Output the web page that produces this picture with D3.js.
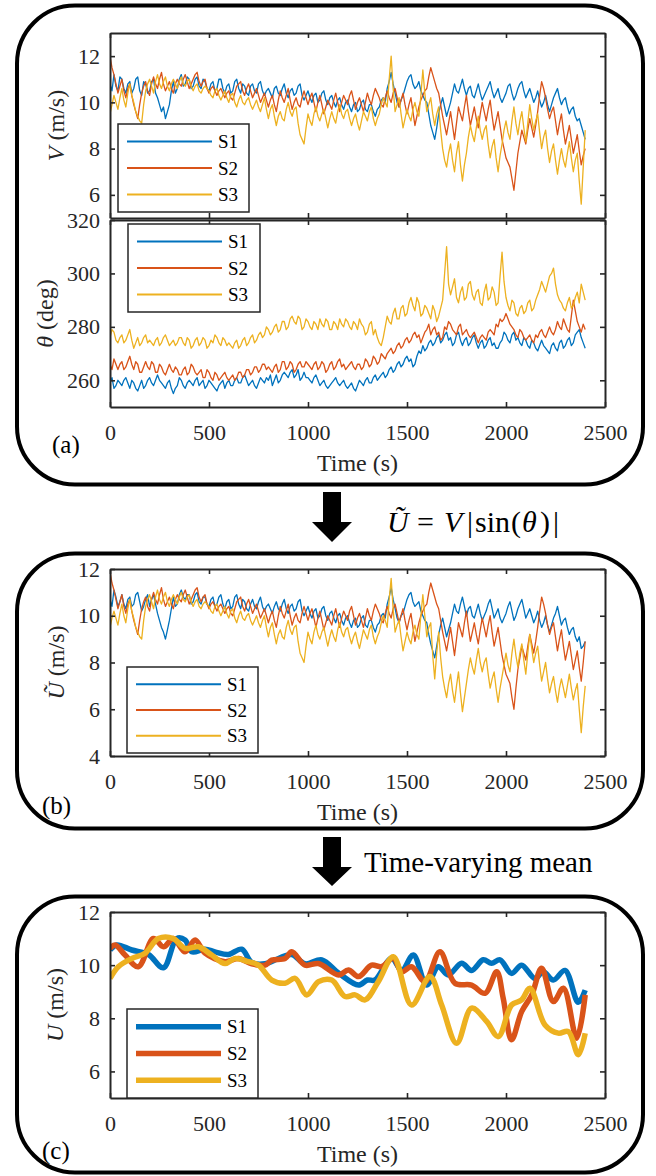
<!DOCTYPE html>
<html>
<head>
<meta charset="utf-8">
<script src="https://d3js.org/d3.v7.min.js"></script>
<style>
  body { margin: 0; background: #fff; }
  svg { display: block; font-family: "Liberation Serif", Tinos, "Times New Roman", Times, "DejaVu Serif", serif; }
</style>
</head>
<body>
<svg id="fig" width="656" height="1176"></svg>
<script>
// ---- data ----
var seriesNames = ["S1", "S2", "S3"];
var seriesColors = ["#0072BD", "#D95319", "#EDB120"];
var timeTicks = [0, 500, 1000, 1500, 2000, 2500];
var speedTicks = [6, 8, 10, 12];
var dirTicks = [260, 280, 300, 320];
var projTicks = [4, 6, 8, 10, 12];
var meanTicks = [6, 8, 10, 12];
var sampleTimes = d3.range(0, 2401, 10);   // one reading every 10 s

// V (m/s)
var speedS1 = [10.8,10.5,11.2,10.7,10.5,11.1,11.0,10.6,10.4,10.8,10.9,10.4,10.6,11.0,11.1,10.5,10.3,10.9,10.8,10.4,
  10.5,10.9,11.0,10.4,10.2,9.9,9.6,9.8,9.3,9.6,9.9,10.5,10.9,10.4,10.6,11.0,11.2,10.7,10.8,11.1,
  11.0,10.6,10.7,11.0,11.1,10.7,10.6,11.0,10.9,10.6,10.5,10.8,10.9,10.5,10.6,11.0,11.0,10.6,10.4,10.7,
  10.8,10.4,10.5,10.9,11.0,10.6,10.4,10.8,10.7,10.4,10.3,10.7,10.8,10.5,10.4,10.8,10.9,10.5,10.3,10.5,
  10.6,10.4,10.2,10.6,10.7,10.4,10.3,10.6,10.8,10.4,10.2,10.5,10.6,10.3,10.4,10.7,10.8,10.3,10.1,10.3,
  10.5,10.2,10.0,10.3,10.4,10.0,10.1,10.4,10.5,10.1,9.9,10.2,10.3,10.0,9.8,10.1,10.2,9.9,9.7,10.0,
  10.1,9.8,9.6,9.9,10.0,9.6,9.7,10.0,10.1,9.7,9.6,9.9,9.9,9.6,9.4,9.7,9.8,10.1,10.2,10.0,
  10.6,10.9,11.3,10.8,10.4,10.0,9.8,10.1,10.3,10.6,10.9,11.1,11.2,10.8,10.6,10.7,10.9,10.5,10.3,10.1,
  10.0,9.5,9.0,8.7,8.4,8.9,9.5,9.9,10.2,9.8,9.4,9.7,10.0,10.4,10.8,10.5,10.4,10.7,11.0,10.6,
  10.3,10.6,10.7,10.3,10.2,10.5,10.8,10.4,10.1,10.3,10.5,10.7,10.9,10.5,10.2,10.4,10.6,10.2,10.0,10.2,
  10.4,10.7,10.8,10.4,10.1,10.3,10.6,10.8,10.9,10.5,10.2,10.4,10.6,10.3,10.0,10.2,10.5,10.1,9.8,10.0,
  10.3,9.9,9.6,9.9,10.2,10.4,10.6,10.2,9.9,10.1,10.2,9.8,9.5,9.7,9.8,9.4,9.2,9.3,9.0,8.7,
  8.4];
var speedS2 = [12.0,11.5,11.2,10.8,10.4,10.7,11.0,10.5,10.2,10.6,10.8,10.3,9.9,9.6,9.3,9.9,10.4,10.7,10.9,10.5,
  10.3,10.8,11.1,10.8,10.6,11.0,11.3,10.8,10.5,10.7,10.9,10.6,10.4,10.8,11.0,10.8,10.7,11.0,11.2,10.9,
  10.6,10.8,11.0,11.2,11.3,10.9,10.7,10.9,11.0,10.6,10.4,10.6,10.7,10.5,10.3,10.5,10.6,10.4,10.2,10.4,
  10.5,10.2,10.1,10.4,10.7,10.8,10.9,10.5,10.3,10.6,10.8,10.5,10.2,10.4,10.6,10.3,10.0,10.2,10.4,10.1,
  9.8,10.1,10.3,9.9,9.6,10.1,10.5,10.2,10.0,10.3,10.6,10.1,9.7,10.0,10.2,9.9,9.8,10.2,10.5,10.2,
  9.9,10.2,10.4,10.0,9.6,10.0,10.3,9.9,9.5,9.8,10.1,9.9,9.7,10.1,10.4,10.0,9.6,10.0,10.3,10.1,
  9.9,10.3,10.5,10.1,9.7,10.0,10.2,9.9,9.6,10.0,10.4,10.1,9.9,10.3,10.6,10.4,10.2,9.9,9.8,10.2,
  10.5,10.2,10.0,10.4,10.6,10.2,9.8,10.1,10.4,9.9,9.5,9.9,10.2,9.6,9.0,9.4,9.8,10.1,10.3,10.5,
  10.6,11.1,11.5,11.2,10.9,10.6,10.4,9.9,9.4,9.0,8.6,9.1,9.6,9.0,8.4,9.1,9.8,9.5,9.2,9.8,
  10.3,9.6,9.0,9.4,9.8,9.3,8.9,9.5,10.0,9.6,9.2,9.7,10.1,9.4,8.8,9.2,9.6,9.0,8.4,8.0,
  7.6,7.4,7.2,6.7,6.2,7.0,7.8,8.3,8.8,8.5,8.2,8.8,9.3,8.9,8.5,9.0,9.6,10.3,10.9,10.6,
  10.2,9.7,9.3,9.6,9.8,9.2,8.6,9.1,9.5,8.8,8.2,8.6,9.0,8.4,7.8,8.2,8.6,7.9,7.3,7.7,
  8.0];
var speedS3 = [9.5,9.9,10.3,10.0,9.7,10.2,10.6,10.1,9.8,10.4,10.8,10.3,10.0,9.6,9.4,9.2,9.1,9.9,10.5,10.8,
  11.0,10.7,10.4,10.9,11.2,10.8,10.6,10.9,11.1,10.7,10.5,10.8,11.0,10.8,10.6,10.9,11.1,10.8,10.7,10.9,
  11.0,10.7,10.5,10.7,10.8,10.5,10.4,10.6,10.7,10.6,10.5,10.3,10.2,10.5,10.6,10.3,10.1,10.3,10.5,10.2,
  10.0,10.3,10.4,10.0,9.8,10.1,10.3,10.0,9.9,10.1,10.2,9.9,9.7,9.9,10.1,9.8,9.6,9.9,10.2,9.7,
  9.3,9.7,9.9,9.4,9.0,9.4,9.6,9.3,9.2,9.7,10.0,9.6,9.4,9.7,9.8,9.1,8.6,8.4,8.2,8.9,
  9.5,9.2,9.0,9.5,9.8,9.4,9.2,9.5,9.7,9.3,8.9,9.3,9.6,9.3,9.1,9.6,9.9,9.5,9.3,9.6,
  9.7,9.3,9.0,9.3,9.5,9.1,8.8,9.2,9.6,9.4,9.2,9.6,9.8,9.3,9.0,9.3,9.5,9.9,10.2,10.0,
  9.8,11.0,12.0,10.6,9.6,9.9,10.2,9.5,8.9,9.3,9.7,9.4,9.2,9.7,10.0,9.6,9.4,10.3,11.4,10.4,
  9.6,9.9,10.2,9.5,9.0,9.5,9.8,8.8,8.0,7.5,7.2,7.8,8.2,7.5,7.0,7.8,8.3,7.3,6.6,7.3,
  7.8,8.5,9.0,8.6,8.3,8.9,9.4,8.8,8.4,8.8,9.0,8.2,7.6,8.1,8.4,7.6,7.0,7.7,8.2,8.8,
  9.2,8.7,8.4,9.2,9.8,9.1,8.6,9.2,9.6,8.9,8.3,9.1,9.9,9.3,8.8,9.2,9.5,8.7,8.0,8.5,
  8.8,8.0,7.4,7.9,8.2,7.5,6.9,7.5,8.0,7.5,7.2,7.8,8.3,7.6,7.0,7.5,7.8,6.6,5.6,7.2,
  8.8];

// theta (deg)
var dirS1 = [259,261,257,258,260,259,258,260,261,259,257,260,259,257,256,258,260,257,258,260,
  261,259,258,260,262,260,259,258,257,259,260,257,255,257,258,261,260,258,257,259,
  260,259,258,260,261,258,259,260,257,258,260,259,258,257,256,258,259,260,257,259,
  260,258,258,260,261,259,259,261,262,260,258,259,260,258,257,259,261,260,259,261,
  260,262,258,260,262,259,260,262,263,262,261,263,264,261,262,264,260,261,263,261,
  261,260,259,261,262,260,258,259,260,258,257,258,259,260,261,259,258,259,260,258,
  257,258,259,257,256,258,260,259,258,260,261,259,259,261,262,260,261,262,263,261,
  262,264,265,263,264,266,267,265,266,268,269,267,268,265,266,269,271,270,273,271,
  272,274,275,273,274,276,277,274,275,277,278,275,276,273,274,277,278,275,273,275,
  276,273,274,276,277,274,272,274,275,272,273,275,276,273,274,272,272,274,275,278,
  277,275,274,277,278,275,276,274,273,276,275,273,272,275,274,272,271,273,275,273,
  272,271,270,273,274,272,271,274,275,272,273,275,276,273,274,277,278,279,276,274,
  272];
var dirS2 = [266,264,268,266,264,266,267,264,265,267,269,266,264,267,266,263,263,265,267,265,
  264,267,266,263,263,266,265,263,262,264,266,264,263,265,264,262,262,264,265,262,
  263,266,265,263,262,263,264,261,261,264,263,261,260,263,262,260,261,262,263,261,
  260,261,262,260,261,263,263,261,262,264,264,262,263,265,265,263,264,266,266,264,
  265,264,263,265,266,263,264,267,267,264,265,267,266,263,264,266,267,265,265,267,
  266,265,264,266,267,264,265,267,266,263,264,266,267,264,265,267,268,265,266,264,
  265,266,267,265,264,266,266,264,265,268,267,265,266,269,268,266,267,270,269,268,
  270,271,272,270,271,273,274,272,273,275,276,274,275,277,278,276,277,274,276,278,
  279,281,277,279,280,277,278,275,276,280,279,282,281,279,278,277,280,281,277,278,
  279,277,276,277,278,276,274,276,277,276,275,278,279,278,277,281,280,283,282,283,
  285,283,281,280,279,277,276,279,278,276,275,276,277,275,274,277,276,278,279,277,
  276,278,280,278,277,279,282,280,279,283,281,279,278,284,290,286,282,280,278,281,
  279];
var dirS3 = [276,279,278,275,274,276,277,274,275,277,279,275,272,274,276,273,274,276,277,274,
  275,274,273,275,276,273,274,276,277,275,273,274,275,273,274,276,276,274,273,276,
  275,272,273,275,276,273,274,276,275,272,273,275,274,277,276,274,273,276,275,273,
  274,273,272,274,275,272,273,275,276,273,274,276,277,274,275,277,278,276,277,280,
  279,277,278,280,281,278,279,282,282,279,280,283,284,282,281,284,283,279,280,283,
  282,280,279,282,281,279,283,281,280,283,282,279,279,282,281,279,283,281,280,283,
  282,280,279,282,281,279,283,281,280,277,278,281,282,277,279,276,274,273,276,280,
  284,282,281,285,287,283,283,287,288,284,285,289,291,288,286,291,289,284,285,288,
  287,285,283,288,286,282,284,287,290,300,310,296,292,295,298,291,289,293,295,290,
  291,296,297,292,290,293,294,289,288,293,296,290,291,295,293,288,289,299,308,297,
  291,288,286,290,289,285,284,287,288,285,286,289,290,286,287,290,292,294,297,295,
  293,296,299,300,302,296,292,290,289,287,286,289,291,287,288,291,293,289,296,293,
  290];

// U tilde (m/s)
var projS1 = [10.7,10.4,11.1,10.8,10.4,10.6,10.9,10.5,10.3,10.7,10.8,10.4,10.5,10.9,11.0,10.6,10.2,10.4,10.7,10.9,
  10.4,10.7,10.9,10.5,10.1,9.8,9.5,9.3,9.0,9.4,9.8,10.3,10.8,10.4,10.5,10.9,11.1,10.8,10.7,10.9,
  10.9,10.5,10.6,10.9,11.0,10.6,10.5,10.8,10.8,10.5,10.4,10.7,10.8,10.4,10.5,10.8,10.9,10.5,10.3,10.6,
  10.7,10.3,10.4,10.8,10.9,10.5,10.3,10.7,10.6,10.3,10.2,10.5,10.7,10.4,10.3,10.6,10.8,10.4,10.2,10.4,
  10.5,10.3,10.1,10.4,10.6,10.3,10.2,10.5,10.7,10.3,10.1,10.4,10.5,10.2,10.3,10.6,10.7,10.2,10.0,10.2,
  10.4,10.1,9.9,10.2,10.3,9.9,10.0,10.3,10.4,10.0,9.8,10.1,10.2,9.9,9.7,10.0,10.1,9.8,9.6,9.9,
  10.0,9.7,9.5,9.8,9.9,9.5,9.6,9.9,10.0,9.6,9.5,9.8,9.8,9.5,9.3,9.6,9.7,10.0,10.1,9.9,
  10.5,10.8,11.2,10.7,10.3,9.9,9.7,10.0,10.1,10.4,10.7,10.9,11.0,10.6,10.4,10.5,10.6,10.2,10.0,9.8,
  9.7,9.2,8.8,8.5,8.2,8.7,9.2,9.6,9.9,9.5,9.1,9.4,9.7,10.1,10.5,10.2,10.1,10.5,10.8,10.4,
  10.0,10.3,10.4,10.0,9.9,10.2,10.5,10.1,9.8,10.0,10.2,10.5,10.7,10.3,9.9,10.1,10.3,9.9,9.7,9.9,
  10.1,10.4,10.6,10.2,9.8,10.0,10.3,10.5,10.7,10.3,9.9,10.1,10.3,10.0,9.7,9.9,10.2,9.8,9.5,9.7,
  10.0,9.6,9.3,9.6,9.9,10.1,10.4,10.0,9.6,9.8,9.9,9.5,9.2,9.4,9.5,9.1,8.9,9.1,8.6,8.7,
  8.9];
var projS2 = [11.9,11.4,11.1,10.7,10.3,10.6,10.9,10.4,10.1,10.5,10.7,10.2,9.8,9.5,9.2,9.8,10.3,10.6,10.8,10.4,
  10.2,10.7,11.0,10.7,10.5,10.9,11.2,10.7,10.4,10.6,10.8,10.5,10.3,10.7,10.9,10.7,10.6,10.9,11.1,10.8,
  10.5,10.7,10.9,11.1,11.2,10.8,10.6,10.8,10.9,10.5,10.3,10.5,10.6,10.4,10.2,10.4,10.5,10.3,10.1,10.3,
  10.4,10.1,10.0,10.3,10.6,10.7,10.8,10.4,10.2,10.5,10.7,10.4,10.1,10.3,10.5,10.2,9.9,10.1,10.3,10.0,
  9.7,10.0,10.2,9.8,9.5,10.0,10.4,10.1,9.9,10.2,10.5,10.0,9.6,9.9,10.1,9.8,9.7,10.1,10.4,10.1,
  9.8,10.1,10.3,9.9,9.5,9.9,10.2,9.8,9.4,9.7,10.0,9.8,9.6,10.0,10.3,9.9,9.5,9.9,10.2,10.0,
  9.8,10.2,10.4,10.0,9.6,9.9,10.1,9.8,9.5,9.9,10.3,10.0,9.8,10.2,10.5,10.3,10.1,9.8,9.7,10.1,
  10.4,10.1,9.9,10.3,10.5,10.1,9.7,10.0,10.3,9.8,9.4,9.8,10.1,9.5,8.9,9.3,9.7,10.0,10.2,10.4,
  10.5,11.0,11.4,11.1,10.8,10.5,10.3,9.8,9.3,8.9,8.5,9.0,9.5,8.9,8.3,9.0,9.7,9.4,9.1,9.7,
  10.2,9.5,8.9,9.3,9.7,9.2,8.8,9.4,9.9,9.5,9.1,9.6,10.0,9.3,8.7,9.1,9.5,8.9,8.3,7.9,
  7.5,7.3,7.1,6.5,6.0,6.9,7.7,8.2,8.7,8.4,8.1,8.7,9.2,8.8,8.4,8.9,9.5,10.2,10.8,10.5,
  10.1,9.6,9.2,9.5,9.7,9.1,8.5,9.0,9.4,8.7,8.1,8.5,8.9,8.3,7.7,8.1,8.5,7.8,7.2,8.0,
  8.9];
var projS3 = [9.5,9.9,10.2,9.9,9.6,10.1,10.5,10.0,9.7,10.3,10.7,10.2,9.9,9.5,9.3,9.1,9.0,9.8,10.4,10.7,
  10.9,10.6,10.3,10.8,11.1,10.7,10.5,10.8,11.0,10.6,10.4,10.7,10.9,10.7,10.5,10.8,11.0,10.7,10.6,10.8,
  10.9,10.6,10.4,10.6,10.7,10.4,10.3,10.5,10.6,10.5,10.4,10.2,10.1,10.4,10.5,10.2,10.0,10.2,10.4,10.1,
  9.9,10.2,10.3,9.9,9.7,10.0,10.2,9.9,9.8,10.0,10.1,9.8,9.6,9.8,10.0,9.7,9.5,9.8,10.0,9.5,
  9.1,9.5,9.7,9.2,8.8,9.2,9.4,9.1,9.0,9.5,9.8,9.4,9.2,9.5,9.6,8.9,8.4,8.2,8.0,8.7,
  9.3,9.0,8.8,9.3,9.6,9.2,9.0,9.3,9.5,9.1,8.7,9.1,9.4,9.1,8.9,9.4,9.7,9.3,9.1,9.4,
  9.5,9.1,8.8,9.1,9.3,8.9,8.6,9.0,9.4,9.2,9.0,9.4,9.6,9.1,8.8,9.1,9.3,9.7,10.0,9.8,
  9.5,10.7,11.6,10.3,9.3,9.6,9.8,9.1,8.5,8.9,9.3,9.0,8.8,9.3,9.6,9.2,9.0,10.0,10.9,10.0,
  9.1,9.5,9.7,8.3,7.3,8.4,9.3,8.2,7.4,6.9,6.5,7.1,7.5,6.8,6.3,7.0,7.6,6.7,5.9,6.5,
  7.1,7.7,8.2,7.8,7.5,8.1,8.6,8.0,7.6,8.0,8.2,7.5,6.9,7.3,7.6,6.9,6.3,6.9,7.4,7.9,
  8.4,7.9,7.6,8.4,9.0,8.3,7.8,8.4,8.8,8.1,7.5,8.4,9.2,8.6,8.0,8.4,8.7,7.9,7.2,7.6,
  8.0,7.3,6.7,7.1,7.4,6.8,6.3,6.9,7.3,6.9,6.5,7.0,7.5,6.9,6.4,6.8,7.1,6.0,5.0,6.1,
  7.0];

// time-varying mean U (m/s): [time, value]
var meanS1 = [[0,10.57],[34,10.76],[110,10.57],[194,10.4],[270,9.9],[337,11.0],[379,10.95],
  [413,10.5],[480,10.6],[530,10.5],[598,10.4],[665,10.6],[716,10.1],[783,10.05],[851,10.25],
  [918,10.4],[985,10.05],[1070,10.2],[1154,9.7],[1255,9.25],[1300,9.44],[1338,9.44],
  [1422,10.26],[1473,9.8],[1532,10.38],[1599,9.25],[1658,9.94],[1708,9.63],[1776,10.07],
  [1826,9.8],[1885,10.2],[1927,10.07],[1970,10.2],[2028,9.69],[2079,10.0],[2146,9.5],
  [2188,9.75],[2239,9.44],[2298,9.8],[2365,8.6],[2400,9.06]];
var meanS2 = [[0,10.63],[26,10.76],[76,10.38],[143,9.94],[219,11.0],[270,10.69],[320,11.0],
  [379,10.5],[430,10.95],[480,10.45],[581,10.13],[649,10.25],[716,10.05],[783,10.0],
  [817,10.19],[884,10.25],[918,10.5],[985,10.0],[1053,10.06],[1154,9.63],[1204,9.82],
  [1255,9.57],[1321,10.0],[1372,9.94],[1431,10.26],[1473,9.75],[1523,9.94],[1591,9.38],
  [1666,10.5],[1742,9.32],[1826,9.25],[1894,8.94],[1953,9.75],[1986,8.75],[2028,7.19],
  [2079,8.25],[2130,8.88],[2180,9.88],[2239,8.63],[2290,9.13],[2357,7.25],[2400,8.88]];
var meanS3 = [[0,9.5],[42,9.94],[110,10.25],[177,10.45],[244,11.0],[320,11.0],[379,10.63],
  [447,10.69],[514,10.38],[581,10.06],[632,10.25],[699,10.13],[750,10.0],[817,9.44],
  [884,9.32],[935,9.5],[994,8.88],[1053,9.38],[1120,9.44],[1187,8.82],[1238,8.88],
  [1288,8.69],[1355,9.38],[1431,10.32],[1523,8.5],[1616,9.57],[1675,8.5],[1751,7.06],
  [1826,8.38],[1902,7.88],[1961,7.31],[2028,8.5],[2079,8.69],[2121,9.13],[2197,7.75],
  [2264,7.44],[2315,7.5],[2365,6.63],[2400,7.44]];

// ---- drawing ----
var svg = d3.select("#fig");
var ink = "#262626";
var serif = "'Liberation Serif', Tinos, 'Times New Roman', serif";
var x = d3.scaleLinear().domain([0, 2500]).range([110, 605]);

function onGrid(vals) {
  return sampleTimes.map(function(t, i) { return [t, vals[i]]; });
}

function styleAxis(g) {
  g.attr("font-family", serif).attr("font-size", 22);
  g.select(".domain").attr("stroke", ink).attr("stroke-width", 2);
  g.selectAll(".tick line").attr("stroke", ink).attr("stroke-width", 1.6);
  g.selectAll("text").attr("fill", ink);
}

function drawPanel(p) {
  var y = d3.scaleLinear().domain(p.domain).range([p.bottom, p.top]);

  svg.append("clipPath").attr("id", "clip" + p.id)
    .append("rect").attr("x", 110).attr("y", p.top)
    .attr("width", 495).attr("height", p.bottom - p.top);

  var line = d3.line().x(function(d) { return x(d[0]); }).y(function(d) { return y(d[1]); });
  if (p.curve) line.curve(p.curve);

  var lines = svg.append("g").attr("clip-path", "url(#clip" + p.id + ")");
  p.series.forEach(function(s, i) {
    lines.append("path").datum(s)
      .attr("fill", "none")
      .attr("stroke", seriesColors[i])
      .attr("stroke-width", p.lineWidth)
      .attr("stroke-linejoin", "round")
      .attr("d", line);
  });

  // box axes, ticks pointing in
  var fmt = d3.format("d");
  var gb = svg.append("g").attr("transform", "translate(0," + p.bottom + ")")
    .call(d3.axisBottom(x).tickValues(timeTicks).tickSizeInner(-5).tickSizeOuter(0)
      .tickPadding(17).tickFormat(p.xLabels ? fmt : ""));
  styleAxis(gb);
  var gt = svg.append("g").attr("transform", "translate(0," + p.top + ")")
    .call(d3.axisTop(x).tickValues(timeTicks).tickSizeInner(-5).tickSizeOuter(0).tickFormat(""));
  styleAxis(gt);
  var gl = svg.append("g").attr("transform", "translate(110,0)")
    .call(d3.axisLeft(y).tickValues(p.yTicks).tickSizeInner(-5).tickSizeOuter(0)
      .tickPadding(10).tickFormat(fmt));
  styleAxis(gl);
  var gr = svg.append("g").attr("transform", "translate(605,0)")
    .call(d3.axisRight(y).tickValues(p.yTicks).tickSizeInner(-5).tickSizeOuter(0).tickFormat(""));
  styleAxis(gr);

  // y label
  var yl = svg.append("text")
    .attr("transform", "translate(" + p.ylabelX + "," + ((p.top + p.bottom) / 2) + ") rotate(-90)")
    .attr("text-anchor", "middle").attr("font-size", 24).attr("fill", ink);
  yl.append("tspan").attr("font-style", "italic").text(p.ylabel[0]);
  yl.append("tspan").text(p.ylabel[1]);

  if (p.xLabels) {
    svg.append("text").attr("x", 357.5).attr("y", p.bottom + 64)
      .attr("text-anchor", "middle").attr("font-size", 24).attr("fill", ink)
      .text("Time (s)");
  }

  // legend
  var L = p.legend;
  var lg = svg.append("g").attr("transform", "translate(" + L.x + "," + L.y + ")");
  lg.append("rect").attr("width", L.w).attr("height", L.h)
    .attr("fill", "#fff").attr("stroke", ink).attr("stroke-width", 1.5);
  seriesNames.forEach(function(name, i) {
    var ry = L.h * (0.2 + 0.3 * i);
    lg.append("line").attr("x1", 9).attr("x2", 94).attr("y1", ry).attr("y2", ry)
      .attr("stroke", seriesColors[i]).attr("stroke-width", p.legendWidth);
    lg.append("text").attr("x", 100).attr("y", ry + 6.5)
      .attr("font-size", 19).attr("fill", "#000").text(name);
  });
}

function roundBox(top, bottom) {
  svg.append("rect").attr("x", 17).attr("y", top)
    .attr("width", 626).attr("height", bottom - top)
    .attr("rx", 58).attr("ry", 58)
    .attr("fill", "none").attr("stroke", "#000").attr("stroke-width", 4);
}

function arrow(top, mid, tip) {
  var p = d3.path();
  p.moveTo(323, top); p.lineTo(341, top); p.lineTo(341, mid); p.lineTo(352, mid);
  p.lineTo(332, tip); p.lineTo(312, mid); p.lineTo(323, mid); p.closePath();
  svg.append("path").attr("d", p.toString()).attr("fill", "#000");
}

roundBox(5.5, 484.5);
roundBox(553.5, 828.5);
roundBox(896.5, 1172.5);

drawPanel({ id: "v", top: 33, bottom: 218, domain: [5, 13], yTicks: speedTicks, xLabels: false,
  series: [onGrid(speedS1), onGrid(speedS2), onGrid(speedS3)], lineWidth: 1.3,
  ylabel: ["V", " (m/s)"], ylabelX: 64,
  legend: { x: 118, y: 124, w: 131, h: 88 }, legendWidth: 2 });

drawPanel({ id: "t", top: 220, bottom: 407, domain: [250, 320], yTicks: dirTicks, xLabels: true,
  series: [onGrid(dirS1), onGrid(dirS2), onGrid(dirS3)], lineWidth: 1.3,
  ylabel: ["\u03b8", " (deg)"], ylabelX: 53,
  legend: { x: 128, y: 224, w: 132, h: 88 }, legendWidth: 2 });

drawPanel({ id: "b", top: 569, bottom: 756, domain: [4, 12], yTicks: projTicks, xLabels: true,
  series: [onGrid(projS1), onGrid(projS2), onGrid(projS3)], lineWidth: 1.3,
  ylabel: ["U\u0303", " (m/s)"], ylabelX: 64,
  legend: { x: 127, y: 667, w: 131, h: 86 }, legendWidth: 2 });

drawPanel({ id: "c", top: 912, bottom: 1098, domain: [5, 12], yTicks: meanTicks, xLabels: true,
  series: [meanS1, meanS2, meanS3], lineWidth: 5.5, curve: d3.curveCatmullRom.alpha(0.5),
  ylabel: ["U", " (m/s)"], ylabelX: 63,
  legend: { x: 127, y: 1009, w: 131, h: 89 }, legendWidth: 5.5 });

// panel letters
[["(a)", 52, 453], ["(b)", 42, 814], ["(c)", 42, 1159]].forEach(function(d) {
  svg.append("text").attr("x", d[1]).attr("y", d[2]).attr("font-size", 25).text(d[0]);
});

// arrows and step captions
arrow(492, 522, 542);
arrow(837, 867, 886);

var eq = svg.append("g").attr("font-size", 30).attr("fill", "#000");
[["U\u0303", 387, true], ["=", 417, false], ["V", 444, true], ["|", 467, false],
 ["sin", 475, false], ["(", 511, false], ["\u03b8", 522, true], [")", 540, false], ["|", 553, false]]
  .forEach(function(d) {
    eq.append("text").attr("x", d[1]).attr("y", 532)
      .attr("font-style", d[2] ? "italic" : "normal").text(d[0]);
  });

svg.append("text").attr("x", 364).attr("y", 872).attr("font-size", 29)
  .attr("fill", "#000").text("Time-varying mean");
</script>
</body>
</html>
